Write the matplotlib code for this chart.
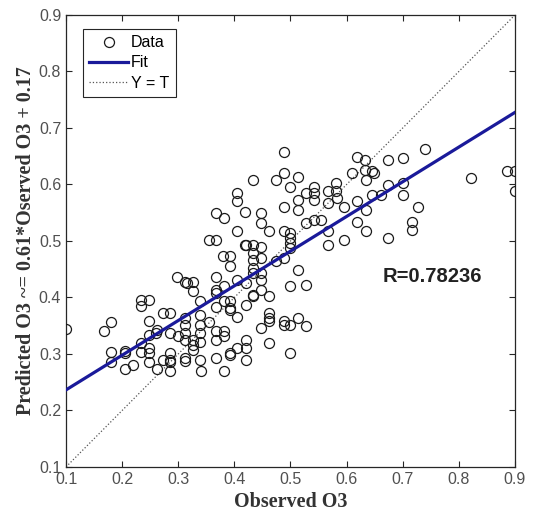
import matplotlib

matplotlib.use("Agg")

import matplotlib.pyplot as plt
import numpy as np

# observed / predicted pairs
observed = [
    0.100, 0.167, 0.180, 0.180, 0.180, 0.205, 0.206, 0.206, 0.220, 0.233,
    0.233, 0.233, 0.233, 0.248, 0.248, 0.248, 0.248, 0.248, 0.248, 0.262,
    0.260, 0.262, 0.272, 0.272, 0.286, 0.286, 0.286, 0.286, 0.286, 0.286,
    0.297, 0.300, 0.312, 0.315, 0.312, 0.312, 0.312, 0.312, 0.312, 0.312,
    0.327, 0.326, 0.326, 0.326, 0.326, 0.339, 0.339, 0.339, 0.339, 0.339,
    0.339, 0.341, 0.354, 0.354, 0.367, 0.368, 0.368, 0.368, 0.368, 0.367,
    0.367, 0.367, 0.367, 0.382, 0.380, 0.382, 0.382, 0.382, 0.382, 0.382,
    0.392, 0.392, 0.392, 0.392, 0.392, 0.392, 0.392, 0.405, 0.405, 0.405,
    0.405, 0.405, 0.405, 0.419, 0.419, 0.421, 0.421, 0.421, 0.421, 0.421,
    0.421, 0.434, 0.434, 0.434, 0.434, 0.434, 0.434, 0.434, 0.434, 0.447,
    0.447, 0.447, 0.447, 0.447, 0.447, 0.447, 0.447, 0.461, 0.461, 0.461,
    0.461, 0.461, 0.461, 0.474, 0.474, 0.488, 0.488, 0.488, 0.488, 0.488,
    0.488, 0.488, 0.500, 0.500, 0.500, 0.500, 0.500, 0.500, 0.500, 0.500,
    0.514, 0.514, 0.514, 0.514, 0.514, 0.528, 0.528, 0.528, 0.528, 0.541,
    0.541, 0.541, 0.541, 0.554, 0.567, 0.567, 0.567, 0.567, 0.581, 0.581,
    0.582, 0.595, 0.595, 0.609, 0.619, 0.619, 0.619, 0.633, 0.633, 0.634,
    0.634, 0.634, 0.646, 0.648, 0.646, 0.661, 0.673, 0.673, 0.673, 0.701,
    0.701, 0.701, 0.716, 0.716, 0.728, 0.740, 0.821, 0.885, 0.900, 0.900,
]
predicted = [
    0.345, 0.340, 0.356, 0.303, 0.285, 0.305, 0.302, 0.274, 0.281, 0.319,
    0.303, 0.385, 0.396, 0.396, 0.358, 0.334, 0.310, 0.302, 0.285, 0.273,
    0.337, 0.343, 0.372, 0.290, 0.372, 0.337, 0.302, 0.290, 0.285, 0.269,
    0.437, 0.331, 0.427, 0.425, 0.364, 0.352, 0.337, 0.325, 0.293, 0.287,
    0.427, 0.411, 0.325, 0.316, 0.307, 0.393, 0.369, 0.352, 0.337, 0.322,
    0.290, 0.269, 0.502, 0.356, 0.549, 0.502, 0.437, 0.414, 0.408, 0.384,
    0.340, 0.325, 0.293, 0.540, 0.473, 0.420, 0.393, 0.340, 0.331, 0.269,
    0.473, 0.455, 0.393, 0.381, 0.378, 0.302, 0.299, 0.585, 0.570, 0.517,
    0.431, 0.366, 0.310, 0.552, 0.493, 0.493, 0.425, 0.387, 0.325, 0.310,
    0.290, 0.608, 0.493, 0.478, 0.467, 0.452, 0.443, 0.405, 0.402, 0.549,
    0.532, 0.490, 0.470, 0.443, 0.431, 0.414, 0.346, 0.517, 0.402, 0.372,
    0.364, 0.358, 0.319, 0.608, 0.464, 0.658, 0.620, 0.561, 0.517, 0.470,
    0.358, 0.352, 0.596, 0.514, 0.505, 0.496, 0.487, 0.420, 0.352, 0.302,
    0.614, 0.573, 0.555, 0.449, 0.364, 0.585, 0.532, 0.422, 0.350, 0.596,
    0.585, 0.573, 0.537, 0.537, 0.588, 0.567, 0.517, 0.493, 0.602, 0.588,
    0.576, 0.561, 0.502, 0.620, 0.649, 0.570, 0.534, 0.644, 0.626, 0.608,
    0.555, 0.517, 0.623, 0.620, 0.582, 0.582, 0.644, 0.599, 0.505, 0.647,
    0.602, 0.582, 0.534, 0.520, 0.561, 0.662, 0.611, 0.623, 0.623, 0.588,
]

fit_slope = 0.614
fit_intercept = 0.175
r_value = 0.78236

lims = [0.1, 0.9]
ticks = [0.1, 0.2, 0.3, 0.4, 0.5, 0.6, 0.7, 0.8, 0.9]

fig = plt.figure(figsize=(5.34, 5.27), dpi=100)
ax = fig.add_axes([0.1236, 0.1139, 0.8408, 0.8577])

ax.plot(observed, predicted, "o", mfc="none", mec="#1a1a1a", ms=7.2, mew=0.9,
        label="Data", zorder=3)
fx = np.array(lims)
ax.plot(fx, fit_slope * fx + fit_intercept, color="#1a1a9a", lw=2.3,
        label="Fit", zorder=4)
ax.plot(lims, lims, ":", color="#555555", lw=0.9, label="Y = T", zorder=2)

ax.set_xlim(lims)
ax.set_ylim(lims)
ax.set_xticks(ticks)
ax.set_yticks(ticks)
ax.set_xticklabels([f"{t:g}" for t in ticks])
ax.set_yticklabels([f"{t:g}" for t in ticks])

ax.tick_params(direction="in", top=True, right=True, length=4, width=0.8,
               color="#262626", labelcolor="#505050", labelsize=11.5)
for lbl in ax.get_xticklabels() + ax.get_yticklabels():
    lbl.set_family("Liberation Sans")
for s in ax.spines.values():
    s.set_color("#262626")
    s.set_linewidth(0.9)

ax.set_xlabel("Observed O3", family="Liberation Serif", fontweight="bold",
              fontsize=14.5, color="#333333", labelpad=4)
ax.set_ylabel("Predicted O3 ~= 0.61*Oserved O3 + 0.17", family="Liberation Serif",
              fontweight="bold", fontsize=14.5, color="#333333", labelpad=2)

ax.text(0.665, 0.438, f"R={r_value}", family="Liberation Sans",
        fontweight="bold", fontsize=14.5, color="#222222", va="center")

leg = ax.legend(loc="upper left", bbox_to_anchor=(0.038, 0.969),
                borderaxespad=0, fancybox=False, framealpha=1,
                prop={"family": "Liberation Sans", "size": 11.5},
                handlelength=2.4, handletextpad=0.2, labelspacing=0.32,
                borderpad=0.4)
leg.get_frame().set_edgecolor("#262626")
leg.get_frame().set_linewidth(0.8)

fig.savefig("out.png", dpi=100)
plt.close(fig)
